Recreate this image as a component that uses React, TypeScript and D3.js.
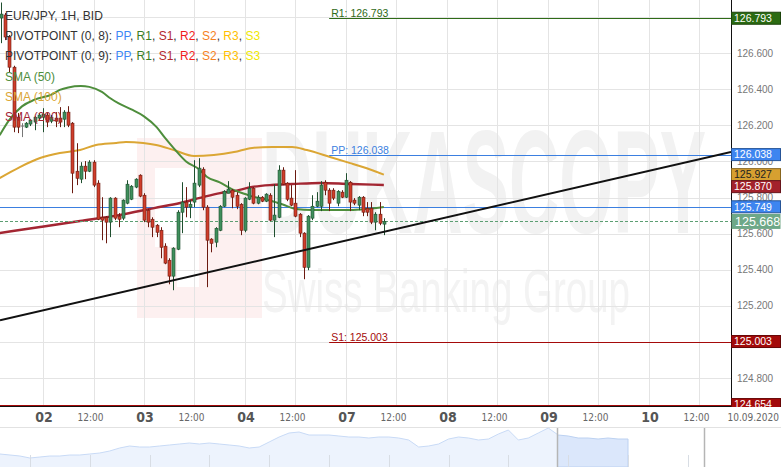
import React, { useRef, useEffect } from "react";
import * as d3 from "d3";

const W = 781;
const H = 467;
const plotW = 731;
const plotH = 406;

// hourly EUR/JPY candles, hour 0 = 02.09 00:00, first candle = hour -10
const firstHour = -10;
const opens = [
  126.794, 126.811, 126.689, 126.522, 126.245, 126.196, 126.19, 126.207, 126.218, 126.24,
  126.245, 126.257, 126.223, 126.24, 126.24, 126.234, 126.273, 126.212, 125.946, 125.902,
  125.974, 125.946, 125.996, 125.88, 125.691, 125.691, 125.664, 125.797, 125.697, 125.686,
  125.769, 125.791, 125.858, 125.924, 125.813, 125.73, 125.68, 125.647, 125.619, 125.531,
  125.453, 125.365, 125.514, 125.719, 125.775, 125.747, 125.775, 125.869, 125.957, 125.747,
  125.57, 125.553, 125.619, 125.752, 125.824, 125.841, 125.813, 125.763, 125.619, 125.791,
  125.852, 125.769, 125.802, 125.78, 125.813, 125.675, 125.691, 125.952, 125.88, 125.797,
  125.769, 125.708, 125.603, 125.414, 125.686, 125.752, 125.752, 125.885, 125.841, 125.841,
  125.769, 125.83, 125.802, 125.885, 125.786, 125.758, 125.802, 125.741, 125.741, 125.664,
  125.708, 125.653,
];
const highs = [
  126.88, 126.822, 126.7, 126.53, 126.268, 126.212, 126.218, 126.234, 126.251, 126.268,
  126.295, 126.268, 126.257, 126.273, 126.301, 126.284, 126.306, 126.218, 126.101, 125.996,
  126.002, 126.007, 126.007, 125.896, 125.802, 125.697, 125.802, 125.802, 125.714, 125.79,
  125.896, 125.869, 125.907, 125.929, 125.824, 125.736, 125.691, 125.653, 125.636, 125.547,
  125.464, 125.525, 125.73, 125.885, 125.858, 125.786, 126.007, 126.018, 125.968, 125.758,
  125.575, 125.636, 125.758, 125.841, 125.891, 125.847, 125.83, 125.769, 125.802, 125.885,
  125.858, 125.813, 125.808, 125.824, 125.824, 125.874, 125.979, 125.968, 125.885, 125.869,
  125.952, 125.714, 125.608, 125.703, 125.813, 125.83, 125.891, 125.896, 125.852, 125.852,
  125.841, 125.841, 125.935, 125.891, 125.797, 125.808, 125.808, 125.775, 125.775, 125.719,
  125.775, 125.686,
];
const lows = [
  126.655, 126.672, 126.495, 126.162, 126.157, 126.135, 126.185, 126.196, 126.173, 126.229,
  126.162, 126.19, 126.212, 126.19, 126.19, 126.19, 126.19, 125.824, 125.869, 125.88,
  125.902, 125.941, 125.858, 125.675, 125.564, 125.547, 125.581, 125.675, 125.636, 125.675,
  125.763, 125.786, 125.852, 125.802, 125.664, 125.636, 125.581, 125.581, 125.464, 125.431,
  125.32, 125.287, 125.509, 125.603, 125.691, 125.686, 125.747, 125.858, 125.73, 125.304,
  125.497, 125.525, 125.614, 125.747, 125.824, 125.741, 125.736, 125.592, 125.608, 125.786,
  125.763, 125.763, 125.775, 125.775, 125.669, 125.581, 125.686, 125.869, 125.78, 125.752,
  125.691, 125.581, 125.348, 125.398, 125.675, 125.747, 125.725, 125.813, 125.725, 125.786,
  125.752, 125.797, 125.797, 125.725, 125.758, 125.73, 125.697, 125.697, 125.653, 125.619,
  125.647, 125.592,
];
const closes = [
  126.816, 126.689, 126.522, 126.19, 126.19, 126.196, 126.212, 126.229, 126.245, 126.257,
  126.262, 126.218, 126.245, 126.223, 126.218, 126.273, 126.201, 125.935, 125.907, 125.974,
  125.946, 125.996, 125.869, 125.68, 125.675, 125.664, 125.797, 125.686, 125.68, 125.786,
  125.874, 125.863, 125.902, 125.808, 125.675, 125.664, 125.636, 125.608, 125.525, 125.437,
  125.365, 125.52, 125.719, 125.775, 125.747, 125.763, 125.88, 125.963, 125.747, 125.564,
  125.547, 125.63, 125.752, 125.835, 125.847, 125.802, 125.752, 125.619, 125.797, 125.852,
  125.769, 125.802, 125.78, 125.819, 125.675, 125.703, 125.952, 125.874, 125.791, 125.758,
  125.697, 125.603, 125.414, 125.697, 125.752, 125.78, 125.869, 125.841, 125.769, 125.797,
  125.835, 125.802, 125.896, 125.775, 125.769, 125.802, 125.719, 125.719, 125.664, 125.708,
  125.658, 125.668,
];

// moving averages read at sample hours
const sma50Hours = [-10.3, -8, -5, -2, 2, 4, 6, 9, 11, 14, 16, 18, 21, 24, 27, 29, 31, 34, 37, 39, 42, 45, 48, 50, 53, 55, 57, 60, 64, 68, 73, 77, 81];
const sma50Values = [126.145, 126.23, 126.305, 126.342, 126.37, 126.396, 126.41, 126.418, 126.413, 126.385, 126.35, 126.321, 126.288, 126.25, 126.19, 126.13, 126.075, 126.0, 125.958, 125.914, 125.884, 125.845, 125.82, 125.804, 125.79, 125.776, 125.762, 125.737, 125.731, 125.731, 125.731, 125.737, 125.748];
const sma100Hours = [-10.3, -5.5, -0.7, 4, 8.8, 12.6, 17.4, 19.7, 23.8, 26.9, 31.1, 35.9, 40.6, 45.4, 49.7, 54.4, 59.2, 62.7, 68.2, 73, 76, 81];
const sma100Values = [125.908, 125.969, 126.019, 126.047, 126.063, 126.091, 126.102, 126.108, 126.102, 126.091, 126.063, 126.03, 126.036, 126.052, 126.075, 126.08, 126.08, 126.063, 126.025, 125.991, 125.969, 125.927];
const sma200Hours = [-10.3, -0.7, 8.8, 18.3, 26.4, 32.6, 37.3, 42.1, 45.4, 49.7, 54.4, 59.2, 65.8, 73, 81];
const sma200Values = [125.604, 125.637, 125.67, 125.704, 125.742, 125.77, 125.798, 125.825, 125.836, 125.859, 125.87, 125.875, 125.881, 125.875, 125.87];

// trend line end points
const trendHours = [-10.22, 163.5];
const trendValues = [125.121, 126.053];

// pivot points
const pivotStartHour = 68;
const pivotNames = ["R1", "PP", "S1"];
const pivotValues = [126.793, 126.038, 125.003];
const pivotColors = ["#2f6b18", "#3b7fe0", "#a40a0a"];
const prevPivotValues = [125.749, 124.654];
const prevPivotColors = ["#3b7fe0", "#a40a0a"];

const currentPrice = 125.668;

const priceTicks = [124.8, 125.0, 125.2, 125.4, 125.6, 125.8, 126.0, 126.2, 126.4, 126.6, 126.8];
const dayTicks = [0, 24, 48, 72, 96, 120, 144];
const dayLabels = ["02", "03", "04", "07", "08", "09", "10"];
const halfDayTicks = [12, 36, 60, 84, 108, 132, 156];

const markerValues = [126.793, 126.038, 125.927, 125.87, 125.749, 125.668, 125.003, 124.654];
const markerFills = ["#2b6b12", "#3d85f0", "#d7a030", "#a3222c", "#3d85f0", "#6ea888", "#a30a0a", "#a30a0a"];
const markerTextColors = ["#fff", "#fff", "#222", "#fff", "#fff", "#fff", "#fff", "#fff"];

const legendPivotItems = ["PP", "R1", "S1", "R2", "S2", "R3", "S3"];
const legendPivotColors = ["#3d87f5", "#3a7d24", "#b3282d", "#f0201a", "#f5821f", "#ffbf00", "#f0e800"];
const smaLabels = ["SMA (50)", "SMA (100)", "SMA (200)"];
const smaColors = ["#4e8e3c", "#dba634", "#a32632"];

// navigator history
const navValues = [
  124.4, 124.3, 124.2, 124.0, 124.1, 124.2, 124.2, 124.3, 124.3, 124.4,
  124.5, 124.7, 125.0, 125.2, 125.1, 125.1, 125.2, 125.3, 125.4, 125.5,
  125.4, 125.5, 125.4, 125.3, 125.2, 125.0, 125.1, 125.6, 126.1, 126.5,
  126.6, 126.3, 126.3, 126.3, 126.2, 126.1, 126.1, 126.0, 126.1, 126.1,
  126.0, 125.8, 125.1, 125.2, 125.4, 125.9, 126.1, 126.0, 125.8, 125.9,
  126.4, 126.8, 125.8, 126.0, 126.5, 127.0, 126.3, 126.2, 126.0, 126.0,
  125.9, 126.0, 125.9, 125.9,
];
const navSelectFrom = 55.9;
const navHandleTo = 70.6;

const FONT = "'Liberation Sans', Arial, sans-serif";
const NARROW = "'Liberation Sans Narrow', 'Arial Narrow', 'DejaVu Sans Condensed', sans-serif";

export default function App() {
  const svgRef = useRef<SVGSVGElement>(null);

  useEffect(() => {
    if (!svgRef.current) return;
    const svg = d3.select(svgRef.current).attr("width", W).attr("height", H);
    svg.selectAll("*").remove();

    const x = d3.scaleLinear().domain([-10.22, 163.5]).range([0, plotW]);
    const y = d3.scaleLinear().domain([126.894, 124.646]).range([0, plotH]);

    const defs = svg.append("defs");
    defs.append("clipPath").attr("id", "plotClip").append("rect").attr("width", plotW).attr("height", plotH);
    defs
      .append("clipPath")
      .attr("id", "axisClip")
      .append("rect")
      .attr("x", plotW)
      .attr("width", W - plotW)
      .attr("height", plotH + 1);

    svg.append("rect").attr("width", W).attr("height", H).attr("fill", "#fff");

    // watermark
    const wm = svg.append("g").attr("clip-path", "url(#plotClip)");
    wm.append("rect").attr("x", 137).attr("y", 138).attr("width", 125).attr("height", 180).attr("fill", "#fdf0f0");
    wm.append("path").attr("d", "M155,168H199V287H177V247H155Z").attr("fill", "#fff");
    wm.append("text")
      .text("DUKASCOPY")
      .attr("x", 262)
      .attr("y", 233)
      .attr("font-family", FONT)
      .attr("font-weight", "bold")
      .attr("font-size", 146)
      .attr("textLength", 444)
      .attr("lengthAdjust", "spacingAndGlyphs")
      .attr("fill", "#f2f2f2");
    wm.append("text")
      .text("Swiss Banking Group")
      .attr("x", 262)
      .attr("y", 312)
      .attr("font-family", FONT)
      .attr("font-size", 62)
      .attr("textLength", 368)
      .attr("lengthAdjust", "spacingAndGlyphs")
      .attr("fill", "#f3f3f3");

    // grid
    const grid = svg.append("g").attr("stroke", "#e4e4e4").attr("stroke-width", 1);
    priceTicks.forEach((v) => {
      const yy = Math.round(y(v)) + 0.5;
      grid.append("line").attr("x1", 0).attr("x2", plotW).attr("y1", yy).attr("y2", yy);
    });
    d3.range(0, 157, 12).forEach((hr) => {
      const xx = Math.round(x(hr)) + 0.5;
      grid.append("line").attr("x1", xx).attr("x2", xx).attr("y1", 0).attr("y2", plotH);
    });

    const plot = svg.append("g").attr("clip-path", "url(#plotClip)");

    // previous period pivots (full width)
    prevPivotValues.forEach((v, i) => {
      const yy = Math.round(y(v)) + 0.5;
      plot.append("line").attr("x1", 0).attr("x2", plotW).attr("y1", yy).attr("y2", yy)
        .attr("stroke", prevPivotColors[i]).attr("stroke-width", 1.2);
    });

    // current pivots
    pivotValues.forEach((v, i) => {
      const yy = Math.round(y(v)) + 0.5;
      const x0 = x(pivotStartHour);
      plot.append("line").attr("x1", x0).attr("x2", plotW).attr("y1", yy).attr("y2", yy)
        .attr("stroke", pivotColors[i]).attr("stroke-width", 1.2);
      plot.append("text")
        .text(`${pivotNames[i]}: ${v.toFixed(3)}`)
        .attr("x", x0 + 2)
        .attr("y", yy - 2)
        .attr("font-family", FONT)
        .attr("font-size", 10.5)
        .attr("fill", pivotColors[i]);
    });

    // moving averages
    const smaSets: [number[], number[], number][] = [
      [sma200Hours, sma200Values, 2.4],
      [sma100Hours, sma100Values, 2],
      [sma50Hours, sma50Values, 2],
    ];
    const smaColorOrder = [smaColors[2], smaColors[1], smaColors[0]];
    smaSets.forEach(([hrs, vals, sw], i) => {
      const line = d3
        .line<number>()
        .x((_, j) => x(hrs[j]))
        .y((d) => y(d))
        .curve(d3.curveMonotoneX);
      plot.append("path").attr("d", line(vals)).attr("fill", "none")
        .attr("stroke", smaColorOrder[i]).attr("stroke-width", sw);
    });

    // current price dashed line
    const cy = Math.round(y(currentPrice)) + 0.5;
    plot.append("line").attr("x1", 0).attr("x2", plotW).attr("y1", cy).attr("y2", cy)
      .attr("stroke", "#5c9e72").attr("stroke-dasharray", "3,2").attr("stroke-width", 1);

    // candles
    const candles = opens.map((o, i) => ({
      hour: firstHour + i,
      o,
      hi: highs[i],
      lo: lows[i],
      c: closes[i],
    }));
    const cg = plot.append("g");
    candles.forEach((d) => {
      const cx = Math.round(x(d.hour));
      const up = d.c > d.o;
      const flat = d.c === d.o;
      const dark = flat ? "#777" : up ? "#1f4f2f" : "#6b1a10";
      const fill = up ? "#3f8f5c" : "#cf3e2b";
      cg.append("line")
        .attr("x1", cx + 0.5).attr("x2", cx + 0.5)
        .attr("y1", y(d.hi)).attr("y2", y(d.lo))
        .attr("stroke", dark).attr("stroke-width", 1);
      if (!flat) {
        const top = y(Math.max(d.o, d.c));
        const bot = y(Math.min(d.o, d.c));
        cg.append("rect")
          .attr("x", cx - 1)
          .attr("y", top)
          .attr("width", 3)
          .attr("height", Math.max(1, bot - top))
          .attr("fill", fill)
          .attr("stroke", dark)
          .attr("stroke-width", 0.6);
      } else {
        cg.append("line").attr("x1", cx - 1).attr("x2", cx + 2)
          .attr("y1", y(d.o)).attr("y2", y(d.o)).attr("stroke", dark);
      }
    });

    // trend line
    const trend = d3.line<number>().x((_, j) => x(trendHours[j])).y((d) => y(d));
    plot.append("path").attr("d", trend(trendValues)).attr("stroke", "#111")
      .attr("stroke-width", 2).attr("fill", "none");

    // axes frame
    svg.append("line").attr("x1", plotW + 0.5).attr("x2", plotW + 0.5).attr("y1", 0).attr("y2", plotH + 1)
      .attr("stroke", "#111");
    svg.append("line").attr("x1", 0).attr("x2", plotW + 1).attr("y1", plotH + 0.5).attr("y2", plotH + 0.5)
      .attr("stroke", "#111");

    // price axis labels (those fully hidden under a marker box are left out)
    const axisG = svg.append("g").attr("clip-path", "url(#axisClip)");
    priceTicks
      .filter((v) => !markerValues.some((m) => Math.abs(y(m) - y(v)) < 4))
      .forEach((v) => {
        axisG.append("text")
          .text(v.toFixed(3))
          .attr("x", 737)
          .attr("y", y(v))
          .attr("dy", "0.35em")
          .attr("font-family", FONT)
          .attr("font-size", 10)
          .attr("fill", "#777");
      });

    // marker boxes, pushed apart when they overlap
    let prevBottom = -Infinity;
    markerValues.forEach((v, i) => {
      const big = v === currentPrice;
      const bh = big ? 15 : 12;
      let top = y(v) - bh / 2;
      if (top < prevBottom) top = prevBottom;
      prevBottom = top + bh;
      const col = d3.color(markerFills[i])!;
      axisG.append("rect")
        .attr("x", plotW + 0.5)
        .attr("y", top)
        .attr("width", W - plotW - 1)
        .attr("height", bh)
        .attr("fill", markerFills[i])
        .attr("stroke", big ? "none" : col.darker(1.3).toString())
        .attr("stroke-width", 1);
      axisG.append("text")
        .text(v.toFixed(3))
        .attr("x", big ? 735 : 734)
        .attr("y", top + bh / 2)
        .attr("dy", "0.36em")
        .attr("font-family", FONT)
        .attr("font-size", big ? 12.5 : 10.5)
        .attr("fill", markerTextColors[i]);
    });

    // time axis labels
    const ty = 417;
    dayTicks.forEach((hr, i) => {
      svg.append("text")
        .text(dayLabels[i])
        .attr("x", x(hr) + 1)
        .attr("y", ty)
        .attr("dy", "0.35em")
        .attr("text-anchor", "middle")
        .attr("font-family", NARROW)
        .attr("font-weight", "bold")
        .attr("font-size", 14)
        .attr("fill", "#555");
    });
    halfDayTicks.forEach((hr) => {
      svg.append("text")
        .text("12:00")
        .attr("x", x(hr) - 3)
        .attr("y", ty)
        .attr("dy", "0.35em")
        .attr("text-anchor", "middle")
        .attr("font-family", NARROW)
        .attr("font-size", 10)
        .attr("fill", "#666");
    });
    svg.append("text")
      .text("10.09.2020")
      .attr("x", 779)
      .attr("y", ty)
      .attr("dy", "0.35em")
      .attr("text-anchor", "end")
      .attr("font-family", NARROW)
      .attr("font-size", 10)
      .attr("fill", "#666");

    // navigator
    const navTop = 427;
    const nx = d3.scaleLinear().domain([0, navValues.length - 1]).range([0, 628]);
    const ny = d3.scaleLinear().domain([124.0, 127.0]).range([458, 428]);
    svg.append("line").attr("x1", 0).attr("x2", W).attr("y1", navTop + 0.5).attr("y2", navTop + 0.5)
      .attr("stroke", "#e2e2e2");
    defs.append("clipPath").attr("id", "navLeft").append("rect")
      .attr("x", 0).attr("y", navTop).attr("width", nx(navSelectFrom)).attr("height", H - navTop);
    defs.append("clipPath").attr("id", "navRight").append("rect")
      .attr("x", nx(navSelectFrom)).attr("y", navTop).attr("width", W).attr("height", H - navTop);
    const area = d3.area<number>().x((_, j) => nx(j)).y0(H).y1((d) => ny(d));
    const nline = d3.line<number>().x((_, j) => nx(j)).y((d) => ny(d));
    svg.append("path").attr("d", area(navValues)).attr("fill", "#edf3fd").attr("clip-path", "url(#navLeft)");
    svg.append("path").attr("d", nline(navValues)).attr("fill", "none").attr("stroke", "#c8daf6")
      .attr("clip-path", "url(#navLeft)");
    svg.append("path").attr("d", area(navValues)).attr("fill", "#dbe7fb").attr("stroke", "#bcd1f1")
      .attr("clip-path", "url(#navRight)");
    d3.range(3, 71, 6).forEach((j) => {
      const xx = Math.round(nx(j)) + 0.5;
      svg.append("line").attr("x1", xx).attr("x2", xx).attr("y1", 455).attr("y2", H)
        .attr("stroke", "#d8dde4").attr("stroke-width", 1);
    });
    [navSelectFrom, navHandleTo].forEach((j) => {
      const xx = Math.round(nx(j)) + 0.5;
      svg.append("line").attr("x1", xx).attr("x2", xx).attr("y1", navTop + 1).attr("y2", H)
        .attr("stroke", "#b5b5b5").attr("stroke-width", 1.5);
    });

    // legend
    const lg = svg.append("g").attr("font-family", FONT).attr("font-size", 12);
    lg.append("text").text("EUR/JPY, 1H, BID").attr("x", 5).attr("y", 20).attr("fill", "#333");
    ["PIVOTPOINT (0, 8): ", "PIVOTPOINT (0, 9): "].forEach((label, r) => {
      const t = lg.append("text").attr("x", 5).attr("y", 40 + r * 20).attr("fill", "#333");
      t.append("tspan").text(label);
      legendPivotItems.forEach((item, k) => {
        t.append("tspan").text(item).attr("fill", legendPivotColors[k]);
        if (k < legendPivotItems.length - 1) t.append("tspan").text(", ");
      });
    });
    smaLabels.forEach((label, i) => {
      lg.append("text").text(label).attr("x", 5).attr("y", 80.5 + i * 20).attr("fill", smaColors[i]);
    });

    return () => {
      svg.selectAll("*").remove();
    };
  }, []);

  return (
    <div style={{ position: "absolute", left: 0, top: 0 }}>
      <svg ref={svgRef} style={{ display: "block" }}></svg>
    </div>
  );
}
